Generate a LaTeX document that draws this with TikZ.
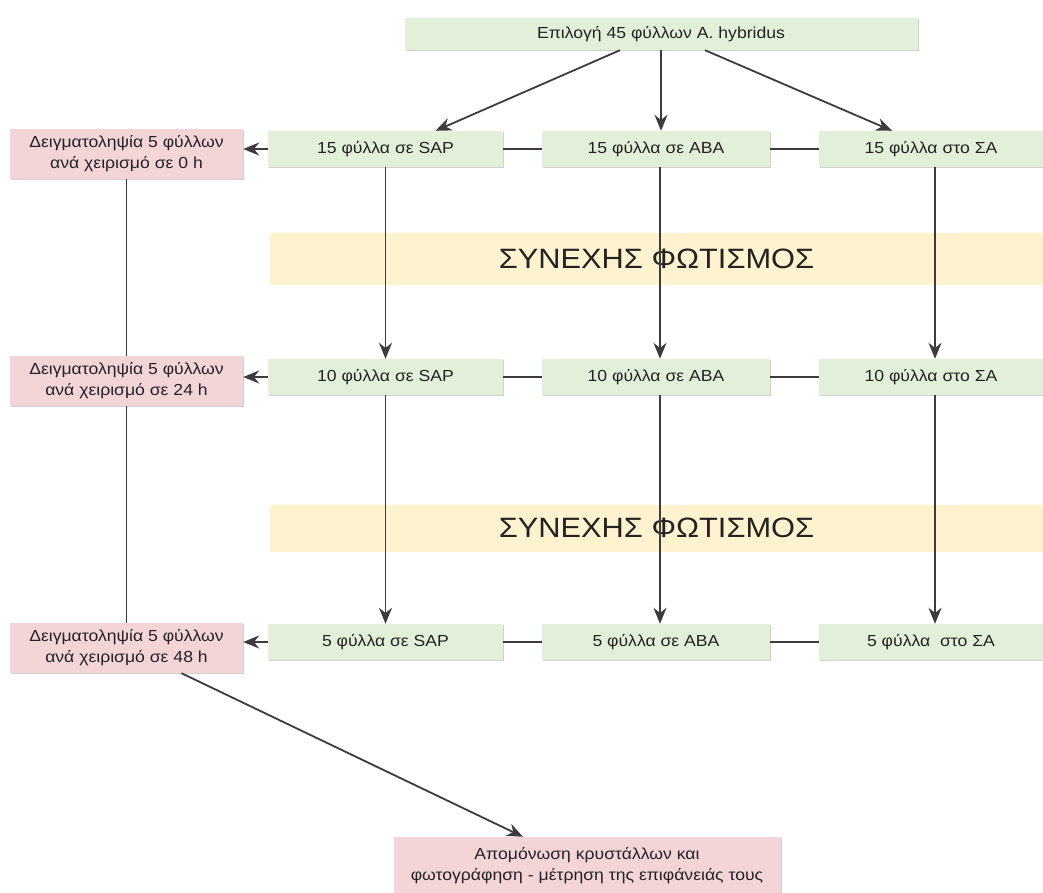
\documentclass[tikz,border=0pt]{standalone}
\usepackage{fontspec}
\setmainfont{Liberation Sans}[FakeStretch=1.1]
\usetikzlibrary{positioning,calc,arrows.meta,shadows}
\definecolor{LeafGreen}{RGB}{226,240,217}
\definecolor{SampleRose}{RGB}{244,213,215}
\definecolor{LightBand}{RGB}{255,243,207}
\definecolor{InkGrey}{RGB}{35,35,35}
\definecolor{LineGrey}{RGB}{60,60,60}
\begin{document}
\begin{tikzpicture}[x=1pt,y=-1pt,
  softshadow/.style={drop shadow={shadow xshift=1.2pt,shadow yshift=-1.2pt,opacity=0.18,fill=black}},
  greenbox/.style={fill=LeafGreen,softshadow,inner sep=0pt,minimum height=36pt,text=InkGrey,font=\fontsize{16}{21}\selectfont},
  rosebox/.style={fill=SampleRose,softshadow,inner sep=0pt,minimum width=233pt,minimum height=50pt,align=center,text=InkGrey,font=\fontsize{16}{21}\selectfont},
  band/.style={fill=LightBand,inner sep=0pt,minimum width=773pt,text=InkGrey,font=\fontsize{28}{32}\selectfont},
  arrow/.style={draw=LineGrey,line width=1.8pt,-{Stealth[length=16pt,width=13pt]}},
  link/.style={draw=LineGrey,line width=1.8pt}]
\useasboundingbox (0,0) rectangle (1043,893);
% top selection
\node[greenbox,minimum width=513pt,minimum height=32pt] (pick) at (661,34) {Επιλογή 45 φύλλων A. hybridus};
% 0 h
\node[greenbox,minimum width=235pt] (sap0) at (385.5,149) {15 φύλλα σε SAP};
\node[greenbox,minimum width=228pt] (aba0) at (656,149) {15 φύλλα σε ABA};
\node[greenbox,minimum width=224pt] (sa0) at (931,149) {15 φύλλα στο ΣΑ};
\node[rosebox] (s0) at (126.5,154) {Δειγματοληψία 5 φύλλων\\ανά χειρισμό σε 0 h};
\node[band,minimum height=52pt] (light1) at (656.5,259) {ΣΥΝΕΧΗΣ ΦΩΤΙΣΜΟΣ};
% 24 h
\node[greenbox,minimum width=235pt] (sap24) at (385.5,377) {10 φύλλα σε SAP};
\node[greenbox,minimum width=228pt] (aba24) at (656,377) {10 φύλλα σε ABA};
\node[greenbox,minimum width=224pt] (sa24) at (931,377) {10 φύλλα στο ΣΑ};
\node[rosebox] (s24) at (126.5,381) {Δειγματοληψία 5 φύλλων\\ανά χειρισμό σε 24 h};
\node[band,minimum height=47pt] (light2) at (656.5,528) {ΣΥΝΕΧΗΣ ΦΩΤΙΣΜΟΣ};
% 48 h
\node[greenbox,minimum width=235pt] (sap48) at (385.5,642) {5 φύλλα σε SAP};
\node[greenbox,minimum width=228pt] (aba48) at (656,642) {5 φύλλα σε ABA};
\node[greenbox,minimum width=224pt] (sa48) at (931,642) {5 φύλλα \ στο ΣΑ};
\node[rosebox] (s48) at (126.5,648) {Δειγματοληψία 5 φύλλων\\ανά χειρισμό σε 48 h};
% crystals
\node[rosebox,minimum width=387pt,minimum height=58pt] (crystals) at (587,866) {Απομόνωση κρυστάλλων και\\φωτογράφηση - μέτρηση της επιφάνειάς τους};
% split into the three treatments
\draw[arrow] ($(pick.south)+(-41,0)$) -- ($(sap0.north)+(50,0)$);
\draw[arrow] (pick.south) -- (pick.south |- aba0.north);
\draw[arrow] ($(pick.south)+(44,0)$) -- ($(sa0.north)+(-39,0)$);
% rows
\draw[link] (sap0) -- (aba0);
\draw[link] (aba0) -- (sa0);
\draw[link] (sap24) -- (aba24);
\draw[link] (aba24) -- (sa24);
\draw[link] (sap48) -- (aba48);
\draw[link] (aba48) -- (sa48);
\draw[arrow] (sap0.west) -- (sap0.west -| s0.east);
\draw[arrow] (sap24.west) -- (sap24.west -| s24.east);
\draw[arrow] (sap48.west) -- (sap48.west -| s48.east);
% down through the light periods
\draw[arrow] (sap0.south) -- (sap24.north);
\draw[arrow] ($(aba0.south)+(4,0)$) -- ($(aba24.north)+(4,0)$);
\draw[arrow] ($(sa0.south)+(4,0)$) -- ($(sa24.north)+(4,0)$);
\draw[arrow] (sap24.south) -- (sap48.north);
\draw[arrow] ($(aba24.south)+(4,0)$) -- ($(aba48.north)+(4,0)$);
\draw[arrow] ($(sa24.south)+(4,0)$) -- ($(sa48.north)+(4,0)$);
% sampling line
\draw[link] (s0) -- (s24);
\draw[link] (s24) -- (s48);
\draw[arrow] ($(s48.south)+(55,0)$) -- ($(crystals.north)+(-64,0)$);
\end{tikzpicture}
\end{document}
